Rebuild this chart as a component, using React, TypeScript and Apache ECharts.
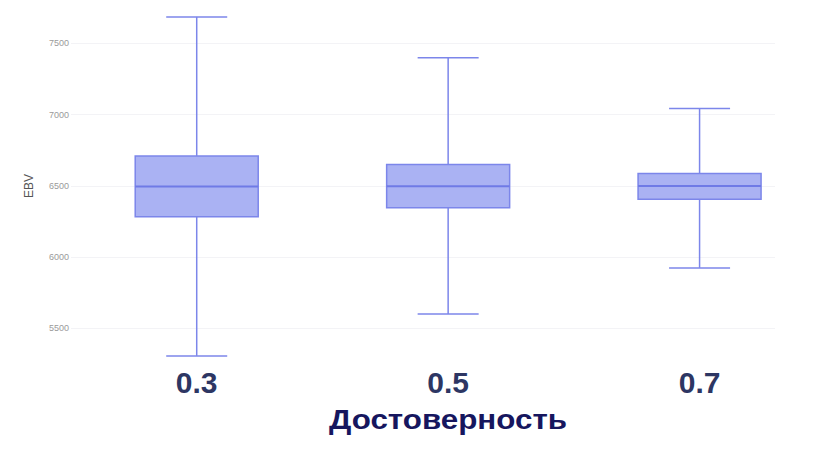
import React, { useEffect, useRef } from "react";
import * as echarts from "echarts";

const categories = ["0.3", "0.5", "0.7"];
const mins = [5308, 5602, 5925];
const q1s = [6283, 6346, 6407];
const medians = [6495, 6498, 6500];
const q3s = [6710, 6650, 6587];
const maxs = [7685, 7398, 7043];
const yTicks = [5500, 6000, 6500, 7000, 7500];

const FILL = "#aab2f3";
const STROKE = "#7c86ea";

export default function App() {
  const ref = useRef<HTMLDivElement>(null);
  useEffect(() => {
    if (!ref.current) return;
    const chart = echarts.init(ref.current, null, { renderer: "svg" });
    const data = categories.map((c, i) => [
      parseFloat(c),
      mins[i],
      q1s[i],
      medians[i],
      q3s[i],
      maxs[i],
    ]);
    const boxW = 123;
    const capW = 61;
    chart.setOption({
      animation: false,
      backgroundColor: "#ffffff",
      grid: { left: 71, right: 40, top: 0.5, height: 399.3 },
      xAxis: {
        type: "value",
        min: 0.2,
        max: 0.76,
        interval: 0.1,
        axisLine: { show: false },
        axisTick: { show: false },
        splitLine: { show: false },
        axisLabel: {
          margin: -17,
          verticalAlign: "middle",
          fontFamily: "Liberation Sans, Arial, sans-serif",
          fontWeight: "bold",
          fontSize: 30,
          color: "#2d3663",
          showMinLabel: false,
          showMaxLabel: false,
          formatter: (v: number) => {
            const s = v.toFixed(1);
            return categories.includes(s) ? s : "";
          },
        },
      },
      yAxis: {
        type: "value",
        min: 5000,
        max: 7800,
        interval: 500,
        axisLine: { show: false },
        axisTick: { show: false },
        axisLabel: {
          margin: 2,
          fontSize: 9,
          color: "#9a9a9a",
          fontFamily: "Liberation Sans, Arial, sans-serif",
          showMinLabel: false,
          showMaxLabel: false,
          formatter: (v: number) => (yTicks.includes(v) ? String(v) : ""),
        },
        splitLine: {
          show: true,
          showMinLine: false,
          showMaxLine: false,
          lineStyle: { color: "#f3f3f6", width: 1 },
        },
      },
      graphic: [
        {
          type: "text",
          x: 29,
          y: 186,
          rotation: Math.PI / 2,
          style: {
            text: "EBV",
            fontSize: 12,
            fill: "#555555",
            fontFamily: "Liberation Sans, Arial, sans-serif",
            textAlign: "center",
            textVerticalAlign: "middle",
          },
        },
        {
          type: "text",
          x: 448,
          y: 419,
          scaleX: 1.12,
          style: {
            text: "Достоверность",
            fontSize: 28,
            fontWeight: "bold",
            fill: "#16165e",
            fontFamily: "Liberation Sans, Arial, sans-serif",
            textAlign: "center",
            textVerticalAlign: "middle",
          },
        },
      ],
      series: [
        {
          type: "custom",
          data,
          encode: { x: 0, y: [1, 2, 3, 4, 5] },
          renderItem: (params: any, api: any) => {
            const x = api.value(0);
            const pMin = api.coord([x, api.value(1)]);
            const pQ1 = api.coord([x, api.value(2)]);
            const pMed = api.coord([x, api.value(3)]);
            const pQ3 = api.coord([x, api.value(4)]);
            const pMax = api.coord([x, api.value(5)]);
            const cx = pMed[0];
            const lineStyle = { stroke: STROKE, lineWidth: 1.5, fill: "none" };
            return {
              type: "group",
              children: [
                {
                  type: "line",
                  shape: { x1: cx, y1: pMax[1], x2: cx, y2: pQ3[1] },
                  style: lineStyle,
                },
                {
                  type: "line",
                  shape: { x1: cx, y1: pQ1[1], x2: cx, y2: pMin[1] },
                  style: lineStyle,
                },
                {
                  type: "line",
                  shape: { x1: cx - capW / 2, y1: pMax[1], x2: cx + capW / 2, y2: pMax[1] },
                  style: lineStyle,
                },
                {
                  type: "line",
                  shape: { x1: cx - capW / 2, y1: pMin[1], x2: cx + capW / 2, y2: pMin[1] },
                  style: lineStyle,
                },
                {
                  type: "rect",
                  shape: { x: cx - boxW / 2, y: pQ3[1], width: boxW, height: pQ1[1] - pQ3[1] },
                  style: { fill: FILL, stroke: STROKE, lineWidth: 1.5 },
                },
                {
                  type: "line",
                  shape: { x1: cx - boxW / 2, y1: pMed[1], x2: cx + boxW / 2, y2: pMed[1] },
                  style: { stroke: "#6f7ae6", lineWidth: 2 },
                },
              ],
            };
          },
        },
      ],
    });
    return () => chart.dispose();
  }, []);
  return (
    <div
      ref={ref}
      style={{ position: "absolute", left: 0, top: 0, width: 815, height: 452 }}
    />
  );
}
